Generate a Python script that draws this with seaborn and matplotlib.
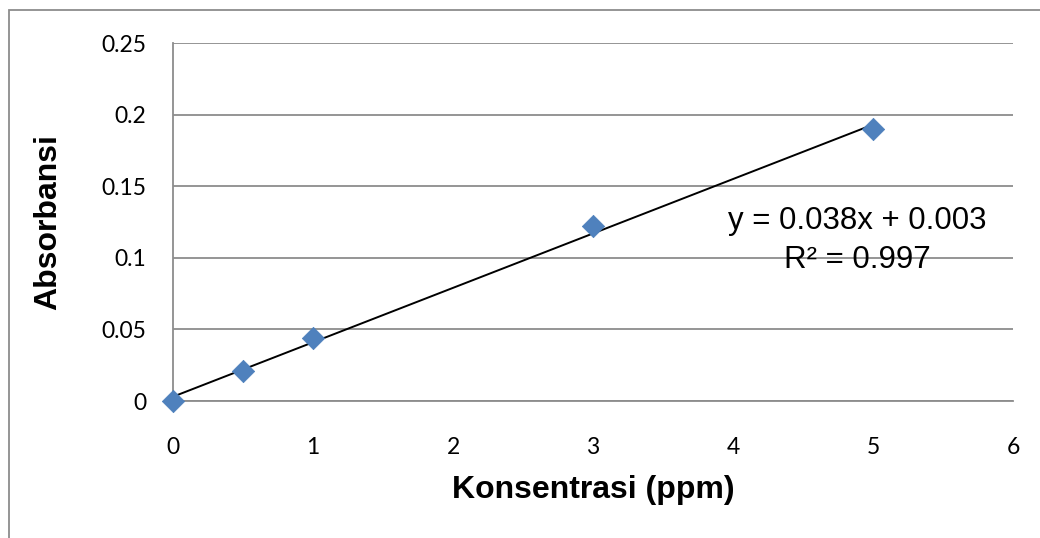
import matplotlib
matplotlib.use("Agg")
import matplotlib.pyplot as plt
import seaborn as sns
import numpy as np
import pandas as pd
from matplotlib.patches import Rectangle

konsentrasi = [0, 0.5, 1, 3, 5]
absorbansi = [0.0, 0.021, 0.044, 0.122, 0.190]
slope = 0.038
intercept = 0.003
r2 = 0.997
xticks = [0, 1, 2, 3, 4, 5, 6]
yticks = [0, 0.05, 0.1, 0.15, 0.2, 0.25]
ytick_labels = ["0", "0.05", "0.1", "0.15", "0.2", "0.25"]

sns.set_theme(style="white")
plt.rcParams['font.family'] = ['Liberation Sans', 'DejaVu Sans']
plt.rcParams['text.color'] = 'black'
plt.rcParams['axes.labelcolor'] = 'black'

fig = plt.figure(figsize=(10.4, 5.38), dpi=100)
W, H = 1040, 538
left, right, top, bottom = 173, 1013, 43, 401
ax = fig.add_axes([left / W, 1 - bottom / H, (right - left) / W, (bottom - top) / H])

# outer chart border (cropped)
fig.patches.append(Rectangle((9 / W, -0.1), 1.2, 1 - 10 / H + 0.1, transform=fig.transFigure,
                             fill=False, edgecolor="#8c8c8c", linewidth=1.3, zorder=0))

df = pd.DataFrame({"Konsentrasi": konsentrasi, "Absorbansi": absorbansi})

# trend line
xs = np.array([min(konsentrasi), max(konsentrasi)])
sns.lineplot(x=xs, y=slope * xs + intercept, ax=ax, color="black", linewidth=1.4, zorder=3)
sns.scatterplot(data=df, x="Konsentrasi", y="Absorbansi", ax=ax, marker="D", s=130,
                color="#4F81BD", edgecolor="#4A7EBB", linewidth=0.5, zorder=4, clip_on=False)

ax.set_xlim(0, 6)
ax.set_ylim(0, 0.25)
ax.set_xticks(xticks)
ax.set_yticks(yticks)
ax.set_yticklabels(ytick_labels)
ax.tick_params(axis="both", length=0, labelsize=16.5, colors="black")
ax.tick_params(axis="x", pad=26)
ax.tick_params(axis="y", pad=19)
for lab in ax.get_xticklabels() + ax.get_yticklabels():
    lab.set_fontfamily(["Lato", "DejaVu Sans"])

ax.grid(axis="y", color="#8c8c8c", linewidth=1.3)
ax.grid(axis="x", visible=False)
for s in ["top", "right"]:
    ax.spines[s].set_visible(False)
for s in ["left", "bottom"]:
    ax.spines[s].set_color("#8c8c8c")
    ax.spines[s].set_linewidth(1.3)

ax.set_xlabel("Konsentrasi (ppm)", fontsize=23, fontweight="bold", labelpad=12, color="black")
ax.set_ylabel("Absorbansi", fontsize=23, fontweight="bold", labelpad=28, color="black")

ax.text(4.886, 0.1255, f"y = {slope}x + {intercept}", fontsize=22.5,
        ha="center", va="center", zorder=5, color="black")
ax.text(4.886, 0.0985, f"R² = {r2}", fontsize=22.5,
        ha="center", va="center", zorder=5, color="black")

fig.savefig("out.png", dpi=100)
